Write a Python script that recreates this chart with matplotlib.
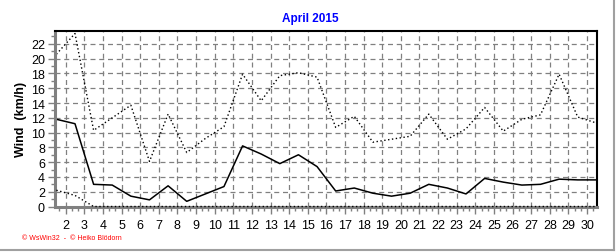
import numpy as np
import matplotlib
matplotlib.use("Agg")
import matplotlib.pyplot as plt
from matplotlib.ticker import MultipleLocator

# Daily wind values, April 2015 (km/h)
days = np.arange(1, 31)
wind_max = [20.6, 23.4, 10.3, 12.0, 13.7, 6.1, 12.5, 7.3, 9.2, 10.8,
            17.9, 14.3, 17.7, 18.1, 17.5, 10.7, 12.2, 8.7, 9.1, 9.5,
            12.5, 9.1, 10.5, 13.4, 10.2, 11.8, 12.4, 17.9, 12.1, 11.3]
wind_mean = [11.8, 11.2, 3.0, 2.9, 1.4, 0.9, 2.8, 0.7, 1.7, 2.7,
             8.2, 7.1, 5.8, 7.0, 5.4, 2.1, 2.5, 1.8, 1.4, 1.8,
             3.0, 2.5, 1.7, 3.8, 3.3, 2.9, 3.0, 3.7, 3.6, 3.6]
wind_min = [2.2, 1.5] + [0.0] * 28
xticks = list(range(2, 31))

plt.rcParams['font.family'] = ['Liberation Sans', 'DejaVu Sans']

fig = plt.figure(figsize=(6.16, 2.53), dpi=100)
ax = fig.add_axes([0.0888, 0.1798, 0.8799, 0.6925])

# values are plotted in the middle of each day
x = days + 0.5
ax.plot(x, wind_max, color='black', linestyle=(0, (1, 1.8)), linewidth=1.0)
ax.plot(x, wind_mean, color='black', linewidth=1.1)
ax.plot(x, wind_min, color='black', linestyle=(0, (1, 1.8)), linewidth=1.0, clip_on=False, zorder=5)

ax.set_xlim(1.41, 30.52)
ax.set_ylim(0, 23.7)
ax.set_xticks(xticks)
ax.set_yticks(range(0, 23, 2))
ax.xaxis.set_minor_locator(MultipleLocator(1 / 3))
ax.yaxis.set_minor_locator(MultipleLocator(1))

ax.grid(True, which='major', color='#808080', linestyle=(0, (4, 3)), linewidth=0.9)
ax.set_axisbelow(True)

for side in ['left', 'bottom']:
    ax.spines[side].set_color('#808080')
    ax.spines[side].set_linewidth(2.2)
for side in ['top', 'right']:
    ax.spines[side].set_color('black')
    ax.spines[side].set_linewidth(1.5)

ax.tick_params(which='major', length=5, width=1, color='#808080', labelsize=9, pad=2)
ax.tick_params(which='minor', length=3, width=1, color='#808080')
ax.tick_params(axis='x', pad=4)

ax.set_ylabel('Wind  (km/h)', fontsize=9, fontweight='bold', labelpad=3)
fig.text(0.503, 0.925, 'April 2015', color='#0000ff', fontsize=8.5, fontweight='bold',
         ha='center', va='center')
fig.text(0.036, 0.059, '\u00a9 WsWin32  -  \u00a9 Heiko Bl\u00f6dorn', color='red', fontsize=5,
         ha='left', va='center')

# grey frame on the right and bottom of the picture
fig.add_artist(plt.Line2D([0, 0.997], [0.008, 0.008], transform=fig.transFigure, color='#a0a0a0', linewidth=1.5))
fig.add_artist(plt.Line2D([0.997, 0.997], [0.008, 1], transform=fig.transFigure, color='#a0a0a0', linewidth=1.5))

plt.savefig('out.png', dpi=100)
